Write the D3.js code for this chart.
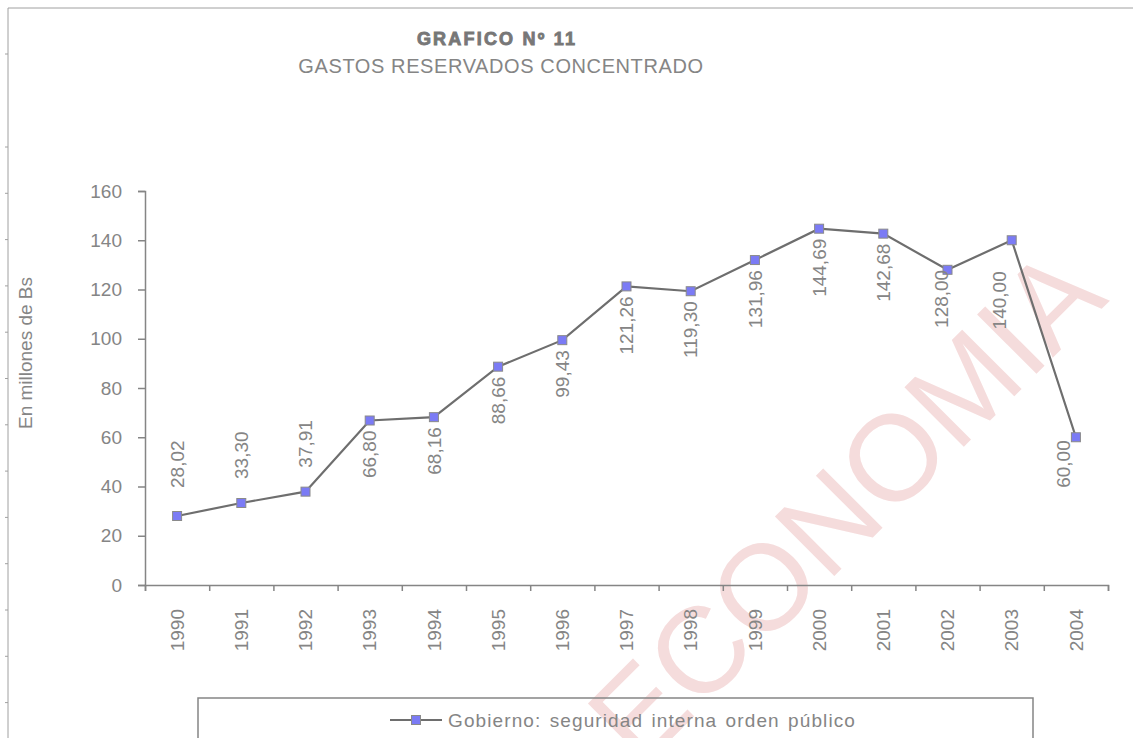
<!DOCTYPE html>
<html>
<head>
<meta charset="utf-8">
<script src="https://cdn.jsdelivr.net/npm/d3@7"></script>
<style>
  body { margin: 0; background: #fff; }
  svg { display: block; font-family: "Liberation Sans", Arial, sans-serif; }
</style>
</head>
<body>
<div id="chart"></div>
<script>
// data
var years = ['1990','1991','1992','1993','1994','1995','1996','1997','1998','1999','2000','2001','2002','2003','2004'];
var gasto = [28.02, 33.30, 37.91, 66.80, 68.16, 88.66, 99.43, 121.26, 119.30, 131.96, 144.69, 142.68, 128.00, 140.00, 60.00];
var yTicks = [0, 20, 40, 60, 80, 100, 120, 140, 160];
var serieName = 'Gobierno: seguridad interna orden público';

var width = 1133, height = 738;
var grey = '#858585';

var svg = d3.select('#chart')
  .append('svg')
  .attr('width', width)
  .attr('height', height);

// watermark
svg.append('text')
  .attr('transform', 'translate(845,505) rotate(-45)')
  .attr('text-anchor', 'middle')
  .attr('dy', '0.35em')
  .style('font-size', '122px')
  .style('fill', '#f5dcdc')
  .text('ECONOMIA');

// outer frame (spreadsheet border)
svg.append('line')
  .attr('x1', 8).attr('x2', width).attr('y1', 8).attr('y2', 8)
  .style('stroke', '#a0a0a0').style('stroke-width', 1);
svg.append('line')
  .attr('x1', 8).attr('x2', 8).attr('y1', 8).attr('y2', height)
  .style('stroke', '#a0a0a0').style('stroke-width', 1);
var frameTicks = [54].concat(d3.range(147, height, 46.3));
svg.selectAll('.ftick')
  .data(frameTicks)
  .enter().append('line')
  .attr('class', 'ftick')
  .attr('x1', 5).attr('x2', 8)
  .attr('y1', function(d) { return d; })
  .attr('y2', function(d) { return d; })
  .style('stroke', '#a0a0a0');

// titles
svg.append('text')
  .attr('x', 497).attr('y', 45)
  .attr('text-anchor', 'middle')
  .style('font-size', '18px')
  .style('font-weight', 'bold')
  .style('letter-spacing', '2.2px')
  .style('fill', '#777')
  .style('stroke', '#777')
  .style('stroke-width', 0.9)
  .text('GRAFICO Nº 11');
svg.append('text')
  .attr('x', 501).attr('y', 73)
  .attr('text-anchor', 'middle')
  .style('font-size', '20px')
  .style('letter-spacing', '0.6px')
  .style('fill', grey)
  .text('GASTOS RESERVADOS CONCENTRADO');

// scales
var x = d3.scaleBand()
  .domain(years)
  .range([145, 1108]);
var xEdge = d3.scaleLinear()
  .domain([0, years.length])
  .range([145, 1108]);
var y = d3.scaleLinear()
  .domain([0, 160])
  .range([585, 191]);

// y axis
var yAxis = svg.append('g')
  .attr('transform', 'translate(145,0)')
  .call(d3.axisLeft(y).tickValues(yTicks).tickSize(7).tickPadding(16));
yAxis.select('.domain').style('stroke', grey).style('stroke-width', 1.5);
yAxis.selectAll('.tick line').style('stroke', grey).style('stroke-width', 1.5);
yAxis.selectAll('.tick text')
  .style('font-size', '19px')
  .style('fill', grey)
  .style('font-family', '"Liberation Sans", Arial, sans-serif');

// x axis, ticks between categories
var xAxis = svg.append('g')
  .attr('transform', 'translate(0,585)')
  .call(d3.axisBottom(xEdge).tickValues(d3.range(years.length + 1)).tickSize(6).tickFormat(''));
xAxis.select('.domain').style('stroke', grey).style('stroke-width', 1.5);
xAxis.selectAll('.tick line').style('stroke', grey).style('stroke-width', 1.5);

svg.selectAll('.year')
  .data(years)
  .enter().append('text')
  .attr('class', 'year')
  .attr('transform', function(d) { return 'translate(' + (x(d) + x.bandwidth() / 2) + ',609) rotate(-90)'; })
  .attr('text-anchor', 'end')
  .attr('dy', '0.35em')
  .style('font-size', '19px')
  .style('fill', grey)
  .text(function(d) { return d; });

// y axis title
svg.append('text')
  .attr('transform', 'translate(25,353) rotate(-90)')
  .attr('text-anchor', 'middle')
  .attr('dy', '0.35em')
  .style('font-size', '19px')
  .style('fill', grey)
  .text('En millones de Bs');

// line
var pts = years.map(function(d, i) { return {year: d, v: gasto[i]}; });
var line = d3.line()
  .x(function(d) { return x(d.year) + x.bandwidth() / 2; })
  .y(function(d) { return y(d.v); });

svg.append('path')
  .datum(pts)
  .attr('d', line)
  .style('fill', 'none')
  .style('stroke', '#6e6e6e')
  .style('stroke-width', 2.2);

svg.selectAll('.mark')
  .data(pts)
  .enter().append('rect')
  .attr('class', 'mark')
  .attr('x', function(d) { return x(d.year) + x.bandwidth() / 2 - 4.5; })
  .attr('y', function(d) { return y(d.v) - 4.5; })
  .attr('width', 9)
  .attr('height', 9)
  .style('fill', '#7b7bf5')
  .style('stroke', '#8a8a8a')
  .style('stroke-width', 1);

// value labels, rotated
var above = ['1990', '1991', '1992'];
var nudge = {'1990': [0, -4], '2002': [-6, -10], '2003': [-12, 21], '2004': [-13, -7]};
var fmt = function(v) { return d3.format('.2f')(v).replace('.', ','); };

svg.selectAll('.vlabel')
  .data(pts)
  .enter().append('text')
  .attr('class', 'vlabel')
  .attr('transform', function(d) {
    var n = nudge[d.year] || [0, 0];
    var px = x(d.year) + x.bandwidth() / 2 + n[0];
    var py = above.indexOf(d.year) >= 0 ? y(d.v) - 24 + n[1] : y(d.v) + 10 + n[1];
    return 'translate(' + px + ',' + py + ') rotate(-90)';
  })
  .attr('text-anchor', function(d) { return above.indexOf(d.year) >= 0 ? 'start' : 'end'; })
  .attr('dy', '0.35em')
  .style('font-size', '19px')
  .style('fill', grey)
  .text(function(d) { return fmt(d.v); });

// legend
var leg = svg.append('g');
leg.append('rect')
  .attr('x', 198).attr('y', 698)
  .attr('width', 835).attr('height', 60)
  .style('fill', 'none')
  .style('stroke', grey)
  .style('stroke-width', 1.5);
leg.append('line')
  .attr('x1', 390).attr('x2', 442).attr('y1', 720).attr('y2', 720)
  .style('stroke', '#6e6e6e').style('stroke-width', 2.2);
leg.append('rect')
  .attr('x', 411.5).attr('y', 715.5).attr('width', 9).attr('height', 9)
  .style('fill', '#7b7bf5').style('stroke', '#8a8a8a');
leg.append('text')
  .attr('x', 448).attr('y', 720)
  .attr('dy', '0.35em')
  .style('font-size', '19px')
  .style('letter-spacing', '1.1px')
  .style('word-spacing', '2px')
  .style('fill', grey)
  .text(serieName);
</script>
</body>
</html>
